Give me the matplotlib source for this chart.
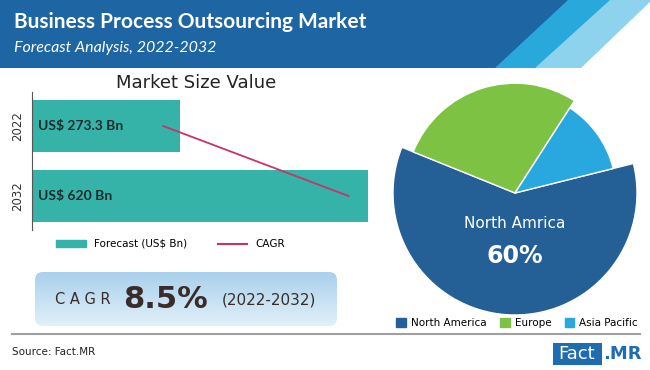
import matplotlib
matplotlib.use("Agg")
import matplotlib.pyplot as plt
from matplotlib.patches import Polygon, Rectangle, FancyBboxPatch
from matplotlib.lines import Line2D
import numpy as np

# data
years = ["2022", "2032"]
market_values = [273.3, 620]
bar_labels = ["US$ 273.3 Bn", "US$ 620 Bn"]
cagr_line = [242, 584]
cagr_value = "8.5%"
regions = ["North America", "Europe", "Asia Pacific"]
region_shares = [60, 28, 12]
region_colors = ["#245f96", "#7dc242", "#29a8e0"]
region_radius = [1.0, 0.9, 0.83]

W, H = 650, 370
fig = plt.figure(figsize=(6.5, 3.7), dpi=100)
fig.patch.set_facecolor("white")


def fx(x):
    return x / W


def fy(y):
    return 1 - y / H


# header band with stripes
bg = fig.add_axes([0, 0, 1, 1], zorder=0)
bg.axis("off")
bg.add_patch(Polygon([(0, 0), (650, 0), (650, 68), (0, 68)], color="#1e66a3", lw=0))
bg.add_patch(Polygon([(568, 0), (650, 0), (650, 68), (495, 68)], color="#29a8dc", lw=0))
bg.add_patch(Polygon([(610, 0), (650, 0), (650, 68), (535, 68)], color="#8dd3ee", lw=0))
bg.add_patch(Polygon([(652, 0), (660, 0), (660, 69), (580, 69)], color="white", lw=0))
bg.text(14, 22, "Business Process Outsourcing Market", color="white", family="Lato",
        fontsize=15, fontweight="bold", va="center", ha="left")
bg.text(14, 48, "Forecast Analysis, 2022-2032", color="white", family="Lato",
        fontsize=11.5, style="italic", va="center", ha="left")

# CAGR box
grad = np.linspace(0, 1, 50).reshape(-1, 1)
cmap = matplotlib.colors.LinearSegmentedColormap.from_list("g", ["#a9d0ec", "#e2f0f9"])
im = bg.imshow(grad, extent=(35, 337, 326, 272), cmap=cmap, aspect="auto", zorder=1)
clip = FancyBboxPatch((35, 272), 302, 54, boxstyle="round,pad=0,rounding_size=8",
                      facecolor="none", edgecolor="none", transform=bg.transData)
bg.add_patch(clip)
im.set_clip_path(clip)
bg.set_xlim(0, W)
bg.set_ylim(H, 0)
bg.text(55, 300, "C A G R", color="#3a2c28", fontsize=10.5, va="center", ha="left", zorder=3)
bg.text(123, 299, cagr_value, color="#3a2c28", fontsize=22, fontweight="bold",
        va="center", ha="left", zorder=3)
bg.text(222, 300, "(2022-2032)", color="#3a2c28", fontsize=11, va="center", ha="left", zorder=3)

# footer line, source, logo
bg.plot([12, 640], [334, 334], color="#a0a0a0", lw=1.5)
bg.text(12, 352, "Source: Fact.MR", color="#222222", fontsize=7.5, va="center", ha="left")
bg.add_patch(Rectangle((553, 343), 49, 22, color="#1f6db0", lw=0))
bg.text(577, 354, "Fact", color="white", fontsize=13, va="center", ha="center")
bg.text(603, 354, ".MR", color="#1f6db0", fontsize=13, fontweight="bold", va="center", ha="left")

# bar chart
ax = fig.add_axes([fx(32), fy(230), fx(348), 138 / H])
y = np.arange(len(years))
ax.barh(y, market_values, height=0.743, color="#35b3a9")
ax.plot(cagr_line, y, color="#c8336b", lw=1.3)
ax.set_ylim(1.486, -0.486)
ax.set_xlim(0, 642)
ax.set_yticks(y)
ax.set_yticklabels(years, rotation=90, va="center", fontsize=8.5, color="#333333")
ax.tick_params(axis="y", length=0, pad=6)
ax.set_xticks([])
for s in ["top", "right", "bottom"]:
    ax.spines[s].set_visible(False)
ax.spines["left"].set_color("#555555")
for i, lab in enumerate(bar_labels):
    ax.annotate(lab, xy=(0, i), xytext=(6, 0), textcoords="offset pixels", family="Lato",
                fontsize=10, fontweight="bold", color="#1c2b2b", va="center", ha="left")
fig.text(fx(196), fy(83), "Market Size Value", fontsize=13, color="#222222", ha="center", va="center")

handles = [Rectangle((0, 0), 1, 1, color="#35b3a9"), Line2D([0], [0], color="#c8336b", lw=1.5)]
fig.legend(handles, ["Forecast (US$ Bn)", "CAGR"], loc="center left",
           bbox_to_anchor=(fx(47), fy(244)), ncol=2, frameon=False, fontsize=7.5,
           handlelength=2.8, handleheight=0.6, columnspacing=3.0)

# pie chart
pax = fig.add_axes([fx(393), fy(315), fx(244), 244 / H])
wedges, _ = pax.pie(region_shares, colors=region_colors, startangle=14, counterclock=False,
                    wedgeprops=dict(edgecolor="white", linewidth=1), radius=1)
for w, r in zip(wedges, region_radius):
    w.set_radius(r)
pax.set_xlim(-1, 1)
pax.set_ylim(-1, 1)
pax.set_aspect("equal")
pax.text(0, -0.25, "North Amrica", color="white", fontsize=11, ha="center", va="center")
pax.text(0, -0.52, "60%", color="white", fontsize=17, fontweight="bold", ha="center", va="center")

leg_handles = [Rectangle((0, 0), 1, 1, color=c) for c in region_colors]
fig.legend(leg_handles, regions, loc="center left", bbox_to_anchor=(fx(387), fy(323)),
           ncol=3, frameon=False, fontsize=7.5, handlelength=0.9, handleheight=0.9,
           handletextpad=0.5, columnspacing=1.3)

fig.savefig("out.png", dpi=100)
